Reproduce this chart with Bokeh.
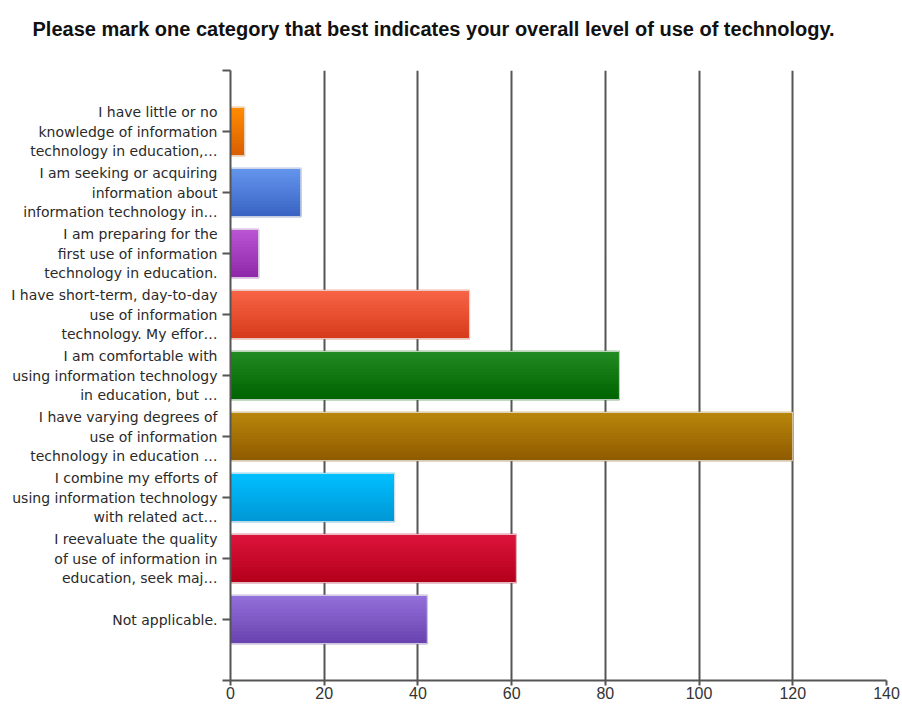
from bokeh.plotting import figure
from bokeh.models import Range1d, FixedTicker
from bokeh.embed import file_html
from bokeh.resources import INLINE

title_text = "Please mark one category that best indicates your overall level of use of technology."

categories = [
    "I have little or no\nknowledge of information\ntechnology in education,…",
    "I am seeking or acquiring\ninformation about\ninformation technology in…",
    "I am preparing for the\nfirst use of information\ntechnology in education.",
    "I have short-term, day-to-day\nuse of information\ntechnology. My effor…",
    "I am comfortable with\nusing information technology\nin education, but …",
    "I have varying degrees of\nuse of information\ntechnology in education …",
    "I combine my efforts of\nusing information technology\nwith related act…",
    "I reevaluate the quality\nof use of information in\neducation, seek maj…",
    "Not applicable.",
]
counts = [3, 15, 6, 51, 83, 120, 35, 61, 42]
top_colors = ["#FF8C00", "#6495ED", "#BA55D3", "#F86446", "#228B22",
              "#B8860B", "#00BFFF", "#DC143C", "#9370DB"]
bottom_colors = ["#D96000", "#3A64C4", "#9028AA", "#D63C1C", "#006400",
                 "#915C00", "#0098D6", "#B5001C", "#6A44B0"]
x_ticks = [0, 20, 40, 60, 80, 100, 120, 140]


def hex_to_rgb(h):
    h = h.lstrip("#")
    return tuple(int(h[i:i + 2], 16) for i in (0, 2, 4))


def mix(c1, c2, t):
    a, b = hex_to_rgb(c1), hex_to_rgb(c2)
    return "#%02x%02x%02x" % tuple(round(a[k] + (b[k] - a[k]) * t) for k in range(3))


n_cat = len(categories)
positions = [n_cat - i for i in range(n_cat)]  # top category at highest value

p = figure(width=902, height=704, output_backend="svg", toolbar_location=None,
           x_range=Range1d(0, 140), y_range=Range1d(0, n_cat + 1),
           min_border_left=230, min_border_right=16, min_border_top=70,
           min_border_bottom=24)
p.background_fill_color = "white"
p.border_fill_color = "white"
p.outline_line_color = None

# bars with vertical gradient built from strips
bar_h = 0.79
n_strips = 16
sh = bar_h / n_strips
for i in range(n_cat):
    ys, cols = [], []
    for j in range(n_strips):
        ys.append(positions[i] + bar_h / 2 - (j + 0.5) * sh)
        cols.append(mix(top_colors[i], bottom_colors[i], j / (n_strips - 1)))
    p.hbar(y=ys, right=[counts[i]] * n_strips, left=0, height=sh,
           fill_color=cols, line_color=cols, line_width=1.2)
    p.hbar(y=[positions[i]], right=[counts[i]], left=0, height=bar_h,
           fill_color=None, line_color="#e4e4e4", line_width=1, line_alpha=0.9)

# title (blank second line lifts it towards the top edge)
p.title.text = title_text + "\n "
p.title.align = "left"
p.title.offset = -198
p.title.standoff = 17
p.title.text_font = "Liberation Sans"
p.title.text_font_style = "bold"
p.title.text_font_size = "20px"
p.title.text_color = "#111111"

# x axis
xa = p.xaxis[0]
xa.ticker = FixedTicker(ticks=x_ticks)
xa.major_label_text_font = "Liberation Sans"
xa.major_label_text_font_size = "16px"
xa.major_label_text_color = "#333333"
xa.axis_line_color = "#555555"
xa.axis_line_width = 2
xa.major_tick_line_color = "#555555"
xa.major_tick_line_width = 2
xa.major_tick_out = 5
xa.major_tick_in = 0
xa.minor_tick_line_color = None
xa.major_label_standoff = 1

# y axis
ya = p.yaxis[0]
ya.ticker = FixedTicker(ticks=[0] + positions + [n_cat + 1])
overrides = {n_cat - i: categories[i] for i in range(n_cat)}
overrides[0] = ""
overrides[n_cat + 1] = ""
ya.major_label_overrides = overrides
ya.major_label_text_font = "DejaVu Sans"
ya.major_label_text_font_size = "14px"
ya.major_label_text_color = "#2a2a2a"
ya.major_label_text_line_height = 1.22
ya.major_label_text_align = "right"
ya.axis_line_color = "#555555"
ya.axis_line_width = 2
ya.major_tick_line_color = "#555555"
ya.major_tick_line_width = 2
ya.major_tick_out = 8
ya.major_tick_in = 0
ya.minor_tick_line_color = None
ya.major_label_standoff = 5

p.xgrid.ticker = FixedTicker(ticks=x_ticks)
p.xgrid.grid_line_color = "#555555"
p.xgrid.grid_line_width = 2
p.ygrid.grid_line_color = None

open("out.html", "w").write(file_html(p, INLINE))
